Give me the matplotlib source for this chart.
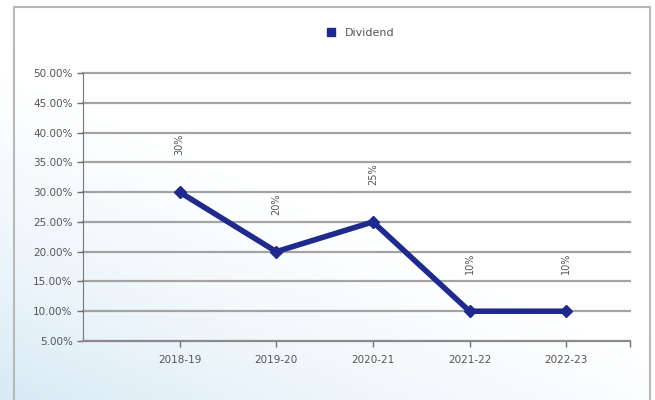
import matplotlib.pyplot as plt
import numpy as np
from matplotlib.patches import Rectangle
from matplotlib.lines import Line2D
from matplotlib.colors import LinearSegmentedColormap

years = ["2018-19", "2019-20", "2020-21", "2021-22", "2022-23"]
dividend = [30, 20, 25, 10, 10]
point_labels = ["30%", "20%", "25%", "10%", "10%"]
y_ticks = [5, 10, 15, 20, 25, 30, 35, 40, 45, 50]

plt.rcParams['font.family'] = ['Liberation Sans Narrow', 'DejaVu Sans']

fig = plt.figure(figsize=(6.55, 4.0), dpi=100)

# soft blue wash, strongest in the lower left corner
bg = fig.add_axes([0, 0, 1, 1], zorder=-10)
gx, gy = np.meshgrid(np.linspace(0, 1, 200), np.linspace(0, 1, 200))
wash = np.clip(1.0 - 0.8 * gx - 1.1 * gy, 0, 1) ** 1.5
cmap = LinearSegmentedColormap.from_list("wash", ["#ffffff", "#d8eaf5"])
bg.imshow(wash, cmap=cmap, vmin=0, vmax=1, extent=[0, 1, 0, 1],
          aspect='auto', origin='lower')
bg.set_xlim(0, 1)
bg.set_ylim(0, 1)
bg.axis('off')
bg.add_patch(Rectangle((14 / 655, -0.05), (650 - 14) / 655, 1 - 7 / 400 + 0.05,
                       fill=False, edgecolor='#b8b8b8', linewidth=1.5))

ax = fig.add_axes([83 / 655, 59 / 400, (630 - 83) / 655, (341 - 73) / 400])
ax.patch.set_alpha(0)

x = np.arange(len(years))
for t in y_ticks[1:]:
    ax.axhline(t, color='#a3a3a3', linewidth=1.6, zorder=1, clip_on=False)

ax.plot(x, dividend, color='#1f2a8c', linewidth=4, marker='D', markersize=6, zorder=3)

for xi, v, lab in zip(x, dividend, point_labels):
    ax.text(xi, v + 8, lab, rotation=90, ha='center', va='center',
            fontsize=7, color='#555555')

ax.set_xlim(-1, 4.66)
ax.set_ylim(5, 50)
ax.set_xticks(x)
ax.set_xticklabels(years)
ax.set_xticks([4.66], minor=True)
ax.set_yticks(y_ticks)
ax.set_yticklabels([f"{t:.2f}%" for t in y_ticks])
ax.tick_params(axis='both', labelsize=7.5, colors='#6f6f6f', labelcolor='#555555',
               length=4, width=1)
ax.tick_params(axis='x', which='minor', length=4, width=1, colors='#6f6f6f')
ax.tick_params(axis='x', pad=6)

for side in ['top', 'right']:
    ax.spines[side].set_visible(False)
ax.spines['left'].set_color('#777777')
ax.spines['bottom'].set_color('#8a8a8a')
ax.spines['bottom'].set_linewidth(1.6)

handle = Line2D([], [], marker='s', linestyle='none', color='#1f2a8c', markersize=6)
fig.legend([handle], ["Dividend"], loc='center', bbox_to_anchor=(357 / 655, 1 - 33 / 400),
           frameon=False, fontsize=8, handletextpad=0.3, labelcolor='#555555')

fig.savefig("out.png", dpi=100)
